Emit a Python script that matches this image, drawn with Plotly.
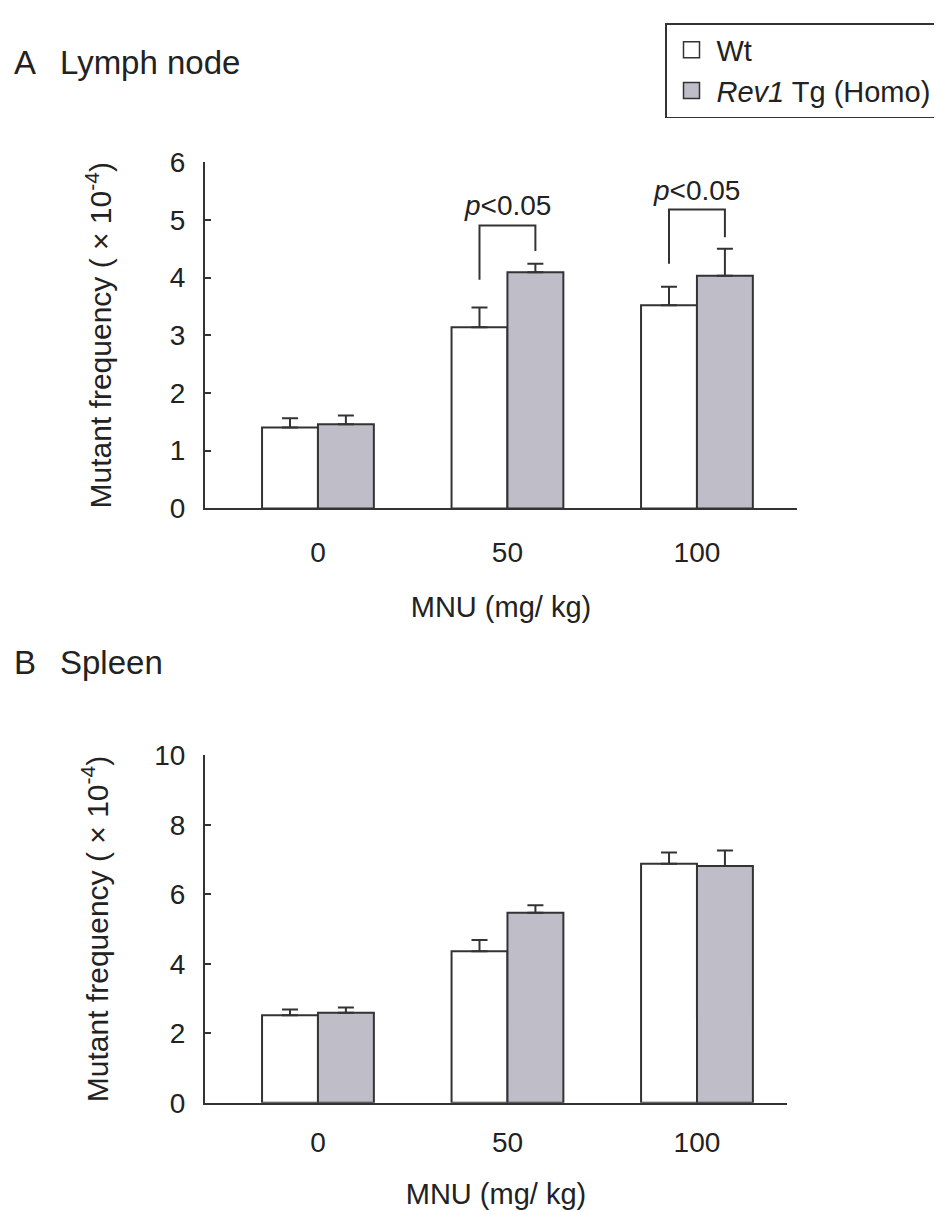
import plotly.graph_objects as go

# ---------------- data ----------------
doses = ["0", "50", "100"]
series_names = ["Wt", "<i>Rev1</i> Tg (Homo)"]

lymph_wt = [1.40, 3.14, 3.52]
lymph_wt_err = [0.16, 0.34, 0.32]
lymph_tg = [1.46, 4.09, 4.03]
lymph_tg_err = [0.15, 0.15, 0.47]

spleen_wt = [2.52, 4.36, 6.88]
spleen_wt_err = [0.16, 0.32, 0.32]
spleen_tg = [2.59, 5.47, 6.81]
spleen_tg_err = [0.15, 0.21, 0.45]

# significance brackets (panel A): group index, top, left leg end, right leg end, label height
sig_groups = [1, 2]
sig_top = [4.90, 5.18]
sig_left_end = [3.96, 4.24]
sig_right_end = [4.46, 4.70]
sig_label_y = [5.25, 5.51]
sig_label = ["<i>p</i><0.05", "<i>p</i><0.05"]

yticks_a = [0, 1, 2, 3, 4, 5, 6]
yticks_b = [0, 2, 4, 6, 8, 10]

# ---------------- style ----------------
FONT = "Liberation Sans, Arial, sans-serif"
TXT = "#222222"
LINE = "#333333"
WT_FILL = "#ffffff"
TG_FILL = "#bfbdc8"
W, H = 942, 1211
OFF_X = 8
BAR_W = 0.295


def px_x(p):
    return (p - OFF_X) / W


def px_y(t):
    # map a target screen row to a paper fraction (page offset / scaling compensation)
    p = (t - 14.5) / 0.975
    return min(1.0, 1 - (p - 8) / H)


xpos = list(range(len(doses)))

fig = go.Figure()


def add_panel(wt, wt_err, tg, tg_err, xa, ya):
    fig.add_trace(go.Bar(
        x=xpos, y=wt, width=BAR_W, offset=-BAR_W, name=series_names[0],
        marker=dict(color=WT_FILL, line=dict(color=LINE, width=2)),
        error_y=dict(type="data", array=wt_err, arrayminus=[0] * len(wt),
                     symmetric=False, color=LINE, thickness=2, width=8),
        xaxis=xa, yaxis=ya, showlegend=False))
    fig.add_trace(go.Bar(
        x=xpos, y=tg, width=BAR_W, offset=0, name=series_names[1],
        marker=dict(color=TG_FILL, line=dict(color=LINE, width=2)),
        error_y=dict(type="data", array=tg_err, arrayminus=[0] * len(tg),
                     symmetric=False, color=LINE, thickness=2, width=8),
        xaxis=xa, yaxis=ya, showlegend=False))


add_panel(lymph_wt, lymph_wt_err, lymph_tg, lymph_tg_err, "x", "y")
add_panel(spleen_wt, spleen_wt_err, spleen_tg, spleen_tg_err, "x2", "y2")

# brackets
for g, top, le, re_ in zip(sig_groups, sig_top, sig_left_end, sig_right_end):
    xl = g - BAR_W / 2
    xr = g + BAR_W / 2
    fig.add_trace(go.Scatter(
        x=[xl, xl, xr, xr], y=[le, top, top, re_], mode="lines",
        line=dict(color=LINE, width=2), xaxis="x", yaxis="y",
        showlegend=False, hoverinfo="skip"))

for g, yl, t in zip(sig_groups, sig_label_y, sig_label):
    fig.add_annotation(x=g, y=yl, xref="x", yref="y", text=t, showarrow=False,
                       yanchor="middle", font=dict(size=28, color=TXT, family=FONT))

# legend entries
for nm, fc in zip(series_names, [WT_FILL, TG_FILL]):
    fig.add_trace(go.Scatter(
        x=[None], y=[None], mode="markers", name=nm,
        marker=dict(symbol="square", size=22, color=fc, line=dict(color=LINE, width=1.5)),
        xaxis="x", yaxis="y", showlegend=True))

axis_common = dict(showline=True, linecolor=LINE, linewidth=2, showgrid=False,
                   zeroline=False, tickfont=dict(size=28, color=TXT, family=FONT))
title_font = dict(size=29, color=TXT, family=FONT)
ytitle_font = dict(size=30, color=TXT, family=FONT)

fig.update_layout(
    width=W, height=H, margin=dict(l=0, r=0, t=0, b=0),
    paper_bgcolor="white", plot_bgcolor="white",
    font=dict(family=FONT, color=TXT),
    barmode="overlay",
    xaxis=dict(domain=[px_x(205), px_x(797)], range=[-0.596, 2.528],
               tickmode="array", tickvals=xpos, ticktext=doses, ticks="",
               ticklabelstandoff=18,
               title=dict(text="MNU (mg/ kg)", font=title_font, standoff=30),
               anchor="y", **axis_common),
    yaxis=dict(domain=[px_y(508), px_y(161.5)], range=[0, 6],
               tickmode="array", tickvals=yticks_a, ticks="inside", ticklen=6,
               tickwidth=2, tickcolor=LINE, ticklabelstandoff=12,
               title=dict(text="Mutant frequency ( × 10<sup>-4</sup>)",
                          font=ytitle_font, standoff=49),
               anchor="x", **axis_common),
    xaxis2=dict(domain=[px_x(205), px_x(787)], range=[-0.596, 2.475],
                tickmode="array", tickvals=xpos, ticktext=doses, ticks="",
                ticklabelstandoff=14,
                title=dict(text="MNU (mg/ kg)", font=title_font, standoff=26),
                anchor="y2", **axis_common),
    yaxis2=dict(domain=[px_y(1102.7), px_y(755)], range=[0, 10],
                tickmode="array", tickvals=yticks_b, ticks="inside", ticklen=6,
                tickwidth=2, tickcolor=LINE, ticklabelstandoff=12,
                title=dict(text="Mutant frequency ( × 10<sup>-4</sup>)",
                           font=ytitle_font, standoff=37),
                anchor="x2", **axis_common),
    legend=dict(x=px_x(665), y=px_y(12), xanchor="left", yanchor="top",
                bordercolor=LINE, borderwidth=1.5, bgcolor="white",
                font=dict(size=29, color=TXT, family=FONT),
                tracegroupgap=0, itemwidth=40),
    showlegend=True,
)

# panel titles
for letter, word, yc in [("A", "Lymph node", px_y(62)), ("B", "Spleen", px_y(662))]:
    fig.add_annotation(x=px_x(12), y=yc, xref="paper", yref="paper", text=letter,
                       showarrow=False, xanchor="left", yanchor="middle",
                       font=dict(size=33, color=TXT, family=FONT))
    fig.add_annotation(x=px_x(58), y=yc, xref="paper", yref="paper", text=word,
                       showarrow=False, xanchor="left", yanchor="middle",
                       font=dict(size=33, color=TXT, family=FONT))

fig.write_html("out.html")
